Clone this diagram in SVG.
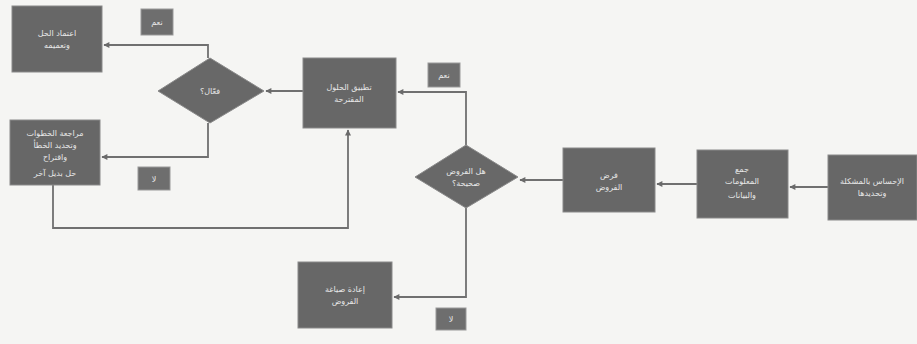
<svg xmlns="http://www.w3.org/2000/svg" width="917" height="344" viewBox="0 0 917 344">
<defs>
<marker id="ah" viewBox="0 0 10 10" refX="9" refY="5" markerWidth="7" markerHeight="6" orient="auto" markerUnits="userSpaceOnUse">
<path d="M0,0 L10,5 L0,10 z" fill="#6a6a6a"/>
</marker>
<style>
.box{fill:#676767;stroke:#8a8a8a;stroke-width:1}
.dia{fill:#686868;stroke:#8a8a8a;stroke-width:1}
.tag{fill:#6e6e6e;stroke:#999;stroke-width:1}
.t{font-family:"DejaVu Sans",sans-serif;font-size:8px;fill:#e8e8e8;text-anchor:middle;direction:rtl}
.c{fill:none;stroke:#707070;stroke-width:1.8}
</style>
</defs>
<rect width="917" height="344" fill="#f5f5f3"/>
<g id="connectors">
<path class="c" d="M208,58 V45 H104" marker-end="url(#ah)"/>
<path class="c" d="M208,123 V157 H102" marker-end="url(#ah)"/>
<path class="c" d="M53,185 V228 H348 V130" marker-end="url(#ah)"/>
<path class="c" d="M303,91 H266" marker-end="url(#ah)"/>
<path class="c" d="M466,145 V92 H398" marker-end="url(#ah)"/>
<path class="c" d="M466,208 V297 H394" marker-end="url(#ah)"/>
<path class="c" d="M563,180 H520" marker-end="url(#ah)"/>
<path class="c" d="M697,184 H657" marker-end="url(#ah)"/>
<path class="c" d="M828,187 H790" marker-end="url(#ah)"/>
</g>
<g id="n1"><rect class="box" x="12" y="6" width="90" height="66"/><text class="t" x="57" y="36">اعتماد الحل</text><text class="t" x="57" y="48">وتعميمه</text></g>
<g id="tagYes1"><rect class="tag" x="141" y="9" width="32" height="26"/><text class="t" x="157" y="25">نعم</text></g>
<g id="d1"><polygon class="dia" points="210,58 264,91 210,123 158,91"/><text class="t" x="210" y="94">فعّال؟</text></g>
<g id="n2"><rect class="box" x="10" y="120" width="90" height="65"/><text class="t" x="55" y="136">مراجعة الخطوات</text><text class="t" x="55" y="148">وتحديد الخطأ</text><text class="t" x="55" y="160">واقتراح</text><text class="t" x="55" y="176">حل بديل آخر</text></g>
<g id="tagNo1"><rect class="tag" x="138" y="167" width="32" height="23"/><text class="t" x="154" y="182">لا</text></g>
<g id="n4"><rect class="box" x="303" y="58" width="93" height="70"/><text class="t" x="349" y="90">تطبيق الحلول</text><text class="t" x="349" y="102">المقترحة</text></g>
<g id="tagYes2"><rect class="tag" x="428" y="63" width="32" height="24"/><text class="t" x="444" y="78">نعم</text></g>
<g id="d2"><polygon class="dia" points="466,145 518,177 466,208 415,177"/><text class="t" x="466" y="174">هل الفروض</text><text class="t" x="466" y="186">صحيحة؟</text></g>
<g id="n5"><rect class="box" x="298" y="262" width="94" height="66"/><text class="t" x="345" y="292">إعادة صياغة</text><text class="t" x="345" y="304">الفروض</text></g>
<g id="tagNo2"><rect class="tag" x="436" y="308" width="30" height="22"/><text class="t" x="451" y="322">لا</text></g>
<g id="n3"><rect class="box" x="563" y="148" width="92" height="64"/><text class="t" x="609" y="178">فرض</text><text class="t" x="609" y="190">الفروض</text></g>
<g id="n6"><rect class="box" x="697" y="150" width="91" height="68"/><text class="t" x="742" y="172">جمع</text><text class="t" x="742" y="184">المعلومات</text><text class="t" x="742" y="198">والبيانات</text></g>
<g id="n7"><rect class="box" x="828" y="155" width="89" height="65"/><text class="t" x="872" y="184">الإحساس بالمشكلة</text><text class="t" x="872" y="196">وتحديدها</text></g>
</svg>
